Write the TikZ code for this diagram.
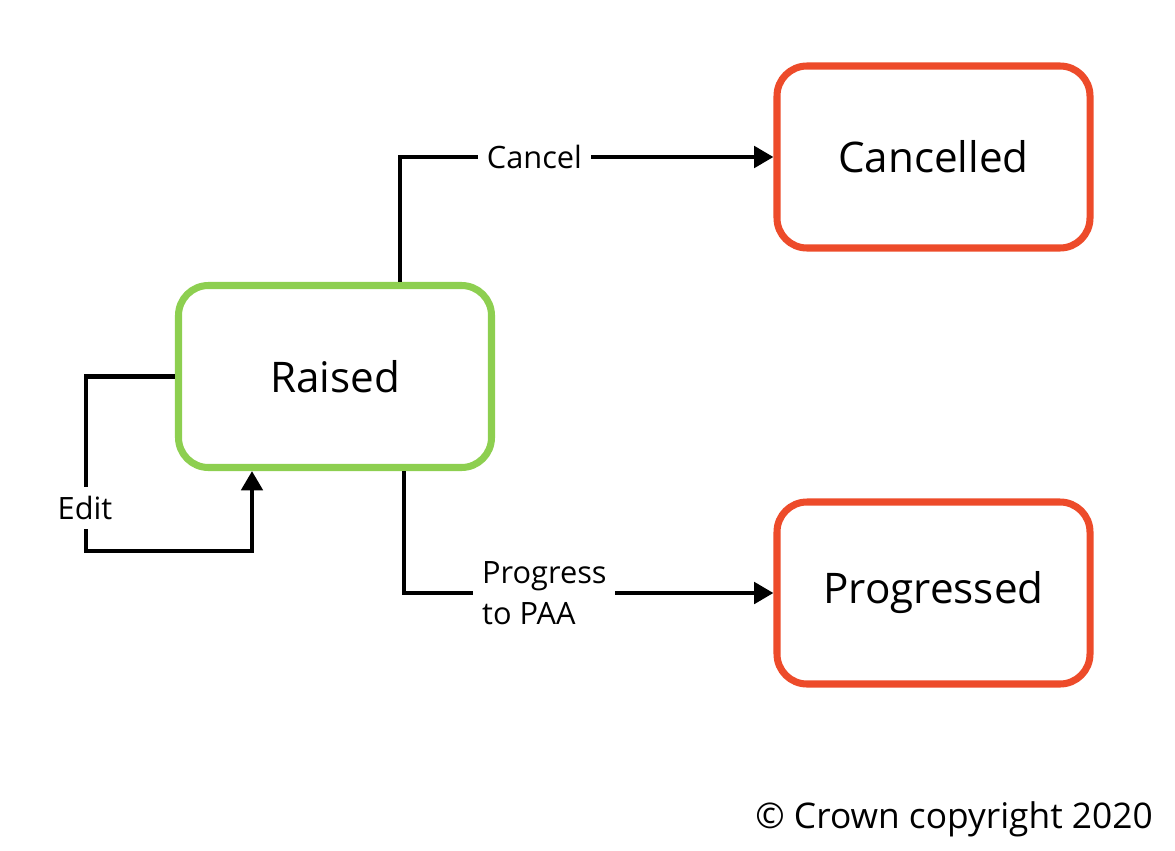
\documentclass[tikz,border=0pt]{standalone}
\usepackage{fontspec}
\setmainfont{Open Sans}
\usetikzlibrary{calc,positioning,arrows.meta}
\definecolor{StateGreen}{RGB}{141,207,80}
\definecolor{StateRed}{RGB}{237,75,42}
\definecolor{FlowBlack}{RGB}{0,0,0}

\begin{document}
\begin{tikzpicture}[
  state/.style={draw,line width=4pt,rounded corners=0.6cm,minimum width=6.26cm,minimum height=3.64cm,font=\fontsize{24}{29}\selectfont},
  flow/.style={-{Triangle[length=11pt,width=12pt]},line width=2.6pt,FlowBlack},
  lbl/.style={fill=white,inner sep=5pt,font=\fontsize{17.5}{23.5}\selectfont}]
  \useasboundingbox (0,0) rectangle (23.5,-17);
  \node[state,draw=StateGreen] (raised) at (6.7,-7.53) {Raised};
  \node[state,draw=StateRed] (cancelled) at (18.67,-3.14) {Cancelled};
  \node[state,draw=StateRed] (progressed) at (18.67,-11.86) {Progressed};
  \coordinate (editcorner) at (1.72,-11.02);
  \draw[flow] ([xshift=1.3cm]raised.north) |- node[lbl,pos=0.68] (cancel) {Cancel} (cancelled.west);
  \draw[flow] ([xshift=1.38cm]raised.south) |- node[lbl,pos=0.69,align=left] (progress) {Progress\\to PAA} (progressed.west);
  \draw[flow] (raised.west) -| (editcorner) -| ([xshift=-1.66cm]raised.south);
  \node[lbl] (edit) at (1.7,-10.16) {Edit};
  \node[anchor=east,inner sep=0pt,font=\fontsize{20.1}{24}\selectfont] (copyright) at (23.06,-16.38) {© Crown copyright 2020};
\end{tikzpicture}
\end{document}
